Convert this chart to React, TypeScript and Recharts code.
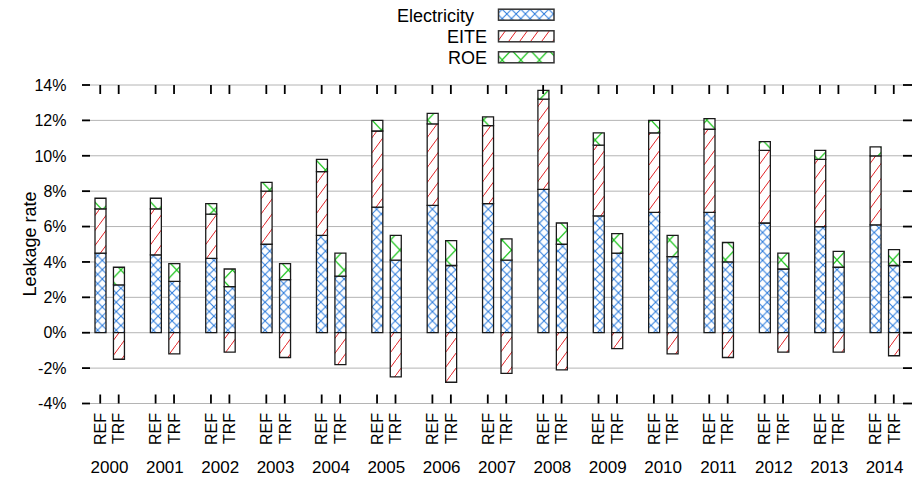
import React from "react";
import { BarChart, Bar, XAxis, YAxis, CartesianGrid } from "recharts";

const years = [2000, 2001, 2002, 2003, 2004, 2005, 2006, 2007, 2008, 2009, 2010, 2011, 2012, 2013, 2014];
const scenarios = ["REF", "TRF"];
const seriesNames = ["Electricity", "EITE", "ROE"];

// REF scenario, stacked leakage contributions (%)
const refElectricity = [4.5, 4.4, 4.2, 5.0, 5.5, 7.1, 7.2, 7.3, 8.1, 6.6, 6.8, 6.8, 6.2, 6.0, 6.1];
const refEITE = [2.5, 2.6, 2.5, 3.0, 3.6, 4.3, 4.6, 4.4, 5.1, 4.0, 4.5, 4.7, 4.1, 3.8, 3.9];
const refROE = [0.6, 0.6, 0.6, 0.5, 0.7, 0.6, 0.6, 0.5, 0.5, 0.7, 0.7, 0.6, 0.5, 0.5, 0.5];

// TRF scenario (EITE goes negative)
const trfElectricity = [2.7, 2.9, 2.6, 3.0, 3.2, 4.1, 3.8, 4.1, 5.0, 4.5, 4.3, 4.0, 3.6, 3.7, 3.8];
const trfEITE = [-1.5, -1.2, -1.1, -1.4, -1.8, -2.5, -2.8, -2.3, -2.1, -0.9, -1.2, -1.4, -1.1, -1.1, -1.3];
const trfROE = [1.0, 1.0, 1.0, 0.9, 1.3, 1.4, 1.4, 1.2, 1.2, 1.1, 1.2, 1.1, 0.9, 0.9, 0.9];

const yTicks = [-4, -2, 0, 2, 4, 6, 8, 10, 12, 14];

const PLOT_LEFT = 82;
const PLOT_RIGHT = 912;
const PLOT_TOP = 85;
const PLOT_BOTTOM = 403.5;
const HALF_SLOT = 9.2;
const FONT = "'Liberation Sans', Arial, Helvetica, sans-serif";

const rows: any[] = [];
years.forEach((yr, i) => {
  rows.push({ key: `${scenarios[0]}-${yr}`, elec: refElectricity[i], eite: refEITE[i], roe: refROE[i] });
  rows.push({ key: `${scenarios[1]}-${yr}`, elec: trfElectricity[i], eite: trfEITE[i], roe: trfROE[i] });
  if (i < years.length - 1) rows.push({ key: `gap-${yr}`, elec: null, eite: null, roe: null });
});

const fills = ["url(#patElec)", "url(#patEite)", "url(#patRoe)"];

function Patterns() {
  return (
    <defs>
      <pattern id="patElec" patternUnits="userSpaceOnUse" width="9.3" height="9.3">
        <rect width="9.3" height="9.3" fill="#fff" />
        <path d="M0,0 L9.3,9.3 M0,9.3 L9.3,0" stroke="#2b7bdc" strokeWidth="1" />
      </pattern>
      <pattern id="patEite" patternUnits="userSpaceOnUse" width="11" height="15">
        <rect width="11" height="15" fill="#fff" />
        <path d="M0,15 L11,0" stroke="#e32226" strokeWidth="1" />
      </pattern>
      <pattern id="patRoe" patternUnits="userSpaceOnUse" width="18.6" height="20">
        <rect width="18.6" height="20" fill="#fff" />
        <path d="M0,0 L18.6,20 M0,20 L18.6,0" stroke="#22c622" strokeWidth="1.2" />
      </pattern>
    </defs>
  );
}

function XTick(props: any) {
  const { x, payload } = props;
  const [label, yr] = String(payload.value).split("-");
  if (label === "gap") return null;
  return (
    <g>
      <line x1={x} x2={x} y1={PLOT_TOP} y2={PLOT_TOP + 9} stroke="#000" strokeWidth={1.8} />
      <line x1={x} x2={x} y1={PLOT_BOTTOM - 9} y2={PLOT_BOTTOM} stroke="#000" strokeWidth={1.8} />
      <text
        x={x + 5.8}
        y={413}
        transform={`rotate(-90, ${x + 5.8}, 413)`}
        textAnchor="end"
        fontSize={16}
        fontFamily={FONT}
        fill="#000"
      >
        {label}
      </text>
      {label === "TRF" && (
        <text x={x - HALF_SLOT} y={473} textAnchor="middle" fontSize={17} fontFamily={FONT} fill="#000">
          {yr}
        </text>
      )}
    </g>
  );
}

function YTick(props: any) {
  const { y, payload } = props;
  return (
    <g>
      <line x1={PLOT_LEFT} x2={PLOT_LEFT + 8} y1={y} y2={y} stroke="#000" strokeWidth={1.8} />
      <line x1={PLOT_RIGHT - 9} x2={PLOT_RIGHT} y1={y} y2={y} stroke="#000" strokeWidth={1.8} />
      <text x={66.5} y={y} dy="0.36em" textAnchor="end" fontSize={16} fontFamily={FONT} fill="#000">
        {`${payload.value}%`}
      </text>
    </g>
  );
}

function LegendOverlay() {
  const textEnds = [474, 487, 487];
  const baselines = [21.7, 43.3, 64.3];
  return (
    <svg width={914} height={75} style={{ position: "absolute", left: 0, top: 0, pointerEvents: "none" }}>
      <Patterns />
      {seriesNames.map((name, i) => (
        <g key={name}>
          <text x={textEnds[i]} y={baselines[i]} textAnchor="end" fontSize={18} fontFamily={FONT} fill="#000">
            {name}
          </text>
          <rect x={498.5} y={baselines[i] - 12.5} width={55.5} height={11} fill={fills[i]} stroke="#333" strokeWidth={1.5} />
        </g>
      ))}
    </svg>
  );
}

export default function App() {
  return (
    <div style={{ position: "absolute", left: 0, top: 0, width: 914, height: 478, background: "#fff" }}>
      <BarChart
        width={914}
        height={478}
        data={rows}
        stackOffset="sign"
        barSize={11}
        margin={{ top: PLOT_TOP, right: 914 - PLOT_RIGHT, bottom: 0, left: 0 }}
      >
        <CartesianGrid vertical={false} stroke="#b4b4b4" strokeWidth={1} />
        <XAxis
          dataKey="key"
          interval={0}
          height={478 - PLOT_BOTTOM}
          padding={{ left: 9, right: 9 }}
          axisLine={false}
          tickLine={false}
          tick={<XTick />}
        />
        <YAxis
          width={PLOT_LEFT}
          domain={[-4, 14]}
          ticks={yTicks}
          interval={0}
          allowDataOverflow
          axisLine={false}
          tickLine={false}
          tick={<YTick />}
          label={{
            value: "Leakage rate",
            content: () => (
              <text
                x={36}
                y={244}
                transform="rotate(-90, 36, 244)"
                textAnchor="middle"
                fontSize={18}
                fontFamily={FONT}
                fill="#000"
              >
                Leakage rate
              </text>
            ),
          }}
        />
        <Bar dataKey="elec" name={seriesNames[0]} stackId="s" fill={fills[0]} stroke="#1a1a1a" strokeWidth={1.3} isAnimationActive={false} />
        <Bar dataKey="eite" name={seriesNames[1]} stackId="s" fill={fills[1]} stroke="#1a1a1a" strokeWidth={1.3} isAnimationActive={false} />
        <Bar dataKey="roe" name={seriesNames[2]} stackId="s" fill={fills[2]} stroke="#1a1a1a" strokeWidth={1.3} isAnimationActive={false} />
      </BarChart>
      <LegendOverlay />
    </div>
  );
}
